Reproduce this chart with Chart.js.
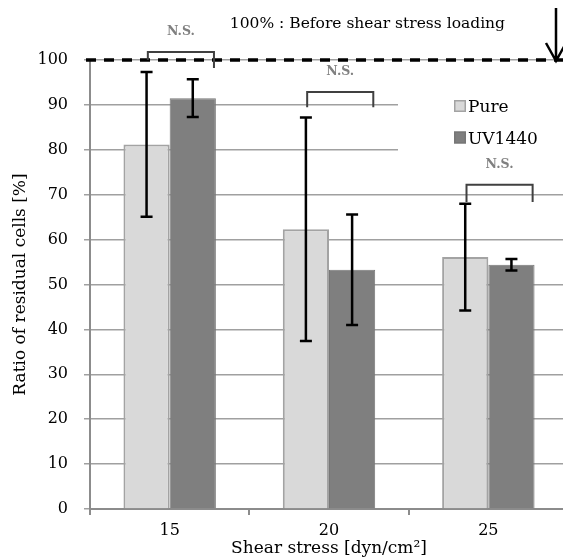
<!DOCTYPE html>
<html>
<head>
<meta charset="utf-8">
<script src="https://cdn.jsdelivr.net/npm/chart.js@4"></script>
<style>
html, body { margin: 0; padding: 0; overflow: hidden; background: #fff; }
#wrap { width: 580px; height: 559px; }
</style>
</head>
<body>
<div id="wrap"><canvas id="myChart"></canvas></div>
<script>
var categories = ['15', '20', '25']
var pure = [81.2, 62.3, 56.1]
var pureErr = [16.1, 24.9, 11.9]
var uv = [91.5, 53.3, 54.4]
var uvErr = [4.2, 12.3, 1.3]

// N.S. brackets (y in % units)
var nsTop = [101.8, 92.9, 72.2]
var nsLeftEnd = [100.0, 89.5, 68.4]
var nsRightEnd = [98.2, 89.5, 68.4]

var serif = "'DejaVu Serif', serif"

var extras = {
    id: 'extras',
    beforeDatasetsDraw: function(chart) {
        let ctx = chart.ctx
        // legend background hides gridlines
        ctx.save()
        ctx.fillStyle = '#fff'
        ctx.fillRect(398, 82, chart.width - 398, 78)
        ctx.restore()
    },
    afterDatasetsDraw: function(chart) {
        let ctx = chart.ctx
        let x = chart.scales.x
        let y = chart.scales.y
        let area = chart.chartArea

        // error bars
        let errs = [pureErr, uvErr]
        ctx.save()
        ctx.strokeStyle = '#000'
        ctx.lineWidth = 2.5
        chart.data.datasets.forEach(function(ds, i) {
            chart.getDatasetMeta(i).data.forEach(function(bar, j) {
                let v = ds.data[j], e = errs[i][j]
                let top = y.getPixelForValue(v + e)
                let bot = y.getPixelForValue(v - e)
                ctx.beginPath()
                ctx.moveTo(bar.x, top); ctx.lineTo(bar.x, bot)
                ctx.moveTo(bar.x - 6, top); ctx.lineTo(bar.x + 6, top)
                ctx.moveTo(bar.x - 6, bot); ctx.lineTo(bar.x + 6, bot)
                ctx.stroke()
            })
        })
        ctx.restore()

        // dashed 100% line
        let y100 = y.getPixelForValue(100)
        ctx.save()
        ctx.strokeStyle = '#000'
        ctx.lineWidth = 3.5
        ctx.setLineDash([10, 8])
        ctx.beginPath()
        ctx.moveTo(area.left - 4, y100)
        ctx.lineTo(chart.width, y100)
        ctx.stroke()
        ctx.restore()

        // N.S. brackets
        let cw = x.width / categories.length
        ctx.save()
        ctx.strokeStyle = '#404040'
        ctx.lineWidth = 2
        ctx.fillStyle = '#808080'
        ctx.font = 'bold 12.5px ' + serif
        ctx.textAlign = 'center'
        ctx.textBaseline = 'middle'
        categories.forEach(function(c, j) {
            let cx = x.getPixelForValue(j)
            let l = cx - 0.137 * cw
            let r = cx + 0.278 * cw
            let t = y.getPixelForValue(nsTop[j])
            ctx.beginPath()
            ctx.moveTo(l, y.getPixelForValue(nsLeftEnd[j]))
            ctx.lineTo(l, t)
            ctx.lineTo(r, t)
            ctx.lineTo(r, y.getPixelForValue(nsRightEnd[j]))
            ctx.stroke()
            ctx.fillText('N.S.', (l + r) / 2, t - 20)
        })
        ctx.restore()

        // arrow + note
        let ax = area.right - 12
        ctx.save()
        ctx.strokeStyle = '#000'
        ctx.lineWidth = 2.5
        ctx.beginPath()
        ctx.moveTo(ax, 8); ctx.lineTo(ax, y100 + 1)
        ctx.moveTo(ax - 10, y100 - 17); ctx.lineTo(ax, y100 + 1); ctx.lineTo(ax + 10, y100 - 17)
        ctx.stroke()
        ctx.fillStyle = '#000'
        ctx.font = '15.5px ' + serif
        ctx.textAlign = 'right'
        ctx.textBaseline = 'alphabetic'
        ctx.fillText('100% : Before shear stress loading', ax - 51, 28)
        ctx.restore()

        // legend
        ctx.save()
        ctx.font = '17px ' + serif
        ctx.textBaseline = 'alphabetic'
        ctx.textAlign = 'left'
        chart.data.datasets.forEach(function(ds, i) {
            let sy = 100 + i * 31.5
            ctx.fillStyle = ds.backgroundColor
            ctx.fillRect(454, sy, 12, 12)
            ctx.strokeStyle = ds.borderColor
            ctx.lineWidth = 1.5
            ctx.strokeRect(454.75, sy + 0.75, 10.5, 10.5)
            ctx.fillStyle = '#000'
            ctx.fillText(ds.label, 468, sy + 12)
        })
        ctx.restore()
    }
}

let myChart = document.getElementById('myChart').getContext('2d')
let chart = new Chart(myChart, {
    type: 'bar',
    data: {
        labels: categories,
        datasets: [{
            label: 'Pure',
            data: pure,
            backgroundColor: '#d9d9d9',
            borderColor: '#a3a3a3',
            borderWidth: 2
        }, {
            label: 'UV1440',
            data: uv,
            backgroundColor: '#7f7f7f',
            borderColor: '#777777',
            borderWidth: 1
        }]
    },
    options: {
        responsive: true,
        maintainAspectRatio: false,
        animation: false,
        categoryPercentage: 0.58,
        barPercentage: 1,
        layout: { padding: { top: 60, right: 12, left: 0, bottom: 0 } },
        plugins: {
            legend: { display: false },
            tooltip: { enabled: false }
        },
        scales: {
            x: {
                offset: true,
                grid: { offset: true, drawOnChartArea: false, tickLength: 6, color: '#8c8c8c', lineWidth: 2 },
                border: { color: '#8c8c8c', width: 2 },
                ticks: { font: { family: serif, size: 16 }, color: '#000', padding: 6 },
                title: { display: true, text: 'Shear stress [dyn/cm²]', font: { family: serif, size: 17 }, color: '#000', padding: { top: 0, bottom: 0 } },
                afterFit: function(s) { s.height = 50 }
            },
            y: {
                min: 0,
                max: 100,
                ticks: { stepSize: 10, font: { family: serif, size: 16 }, color: '#000', padding: 16 },
                grid: { color: '#a0a0a0', lineWidth: 1.5, tickLength: 6 },
                border: { color: '#8c8c8c', width: 2 },
                title: { display: true, text: 'Ratio of residual cells [%]', font: { family: serif, size: 17 }, color: '#000', padding: { top: 10, bottom: 0 } },
                afterFit: function(s) { s.width = 90 }
            }
        }
    },
    plugins: [extras]
})
</script>
</body>
</html>
